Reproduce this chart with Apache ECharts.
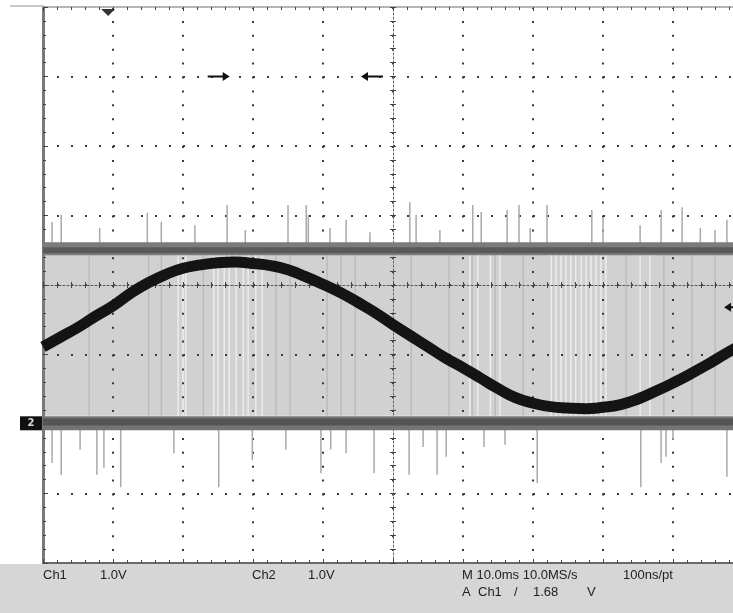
<!DOCTYPE html>
<html>
<head>
<meta charset="utf-8">
<script src="https://cdn.jsdelivr.net/npm/echarts@6/dist/echarts.min.js"></script>
<style>
html, body { margin: 0; padding: 0; background: #fff; }
#main { width: 733px; height: 613px; }
</style>
</head>
<body>
<div id="main"></div>
<script>
// Ch1: sine trace, read every quarter division (time in div, volts at 1.0V/div)
var ch1Time = [0, 0.25, 0.5, 0.75, 1, 1.25, 1.5, 1.75, 2, 2.25, 2.5, 2.75, 3, 3.25, 3.5, 3.75,
    4, 4.25, 4.5, 4.75, 5, 5.25, 5.5, 5.75, 6, 6.25, 6.5, 6.75, 7, 7.25, 7.5, 7.75,
    8, 8.25, 8.5, 8.75, 9, 9.25, 9.5, 9.75, 10];
var ch1Volts = [-0.89, -0.75, -0.61, -0.45, -0.30, -0.12, 0.03, 0.15, 0.24, 0.29, 0.32, 0.33,
    0.31, 0.28, 0.22, 0.12, 0.01, -0.11, -0.25, -0.40, -0.57, -0.73, -0.89, -1.05,
    -1.19, -1.34, -1.49, -1.62, -1.70, -1.75, -1.77, -1.78, -1.76, -1.72, -1.64, -1.53,
    -1.41, -1.28, -1.14, -0.99, -0.85];

// Ch2: noisy two-level signal, drawn as two bands with the toggling area between
var ch2High = 0.52;
var ch2Low = -1.99;
var ch2FillHigh = 0.43;
var ch2FillLow = -1.88;
var lightStripes = [1.93, 2.00, 2.04, 2.44, 2.50, 2.59, 2.66, 2.76, 2.86, 2.93, 3.04, 3.13,
    6.10, 6.21, 6.39, 6.53, 7.26, 7.33, 7.40, 7.47, 7.54, 7.61, 7.69, 7.76, 7.83, 7.90, 7.97, 8.04,
    8.53, 8.67];
var darkStripes = [0.66, 1.51, 1.69, 2.29, 3.33, 3.53, 4.06, 4.26, 4.46, 5.26, 5.80, 6.13,
    6.46, 6.86, 8.33, 8.87, 9.27, 9.60];

// glitches above the high band [time, top] and below the low band [time, bottom]
var spikesUp = [[0.13, 0.91], [0.26, 1.01], [0.81, 0.82], [1.49, 1.04], [1.69, 0.91], [2.17, 0.86],
    [2.63, 1.15], [2.89, 0.79], [3.50, 1.15], [3.76, 1.15], [3.79, 1.01], [4.10, 0.82], [4.33, 0.94],
    [4.67, 0.76], [5.24, 1.19], [5.33, 1.01], [5.67, 0.79], [6.14, 1.15], [6.26, 1.05], [6.63, 1.08],
    [6.80, 1.15], [6.96, 0.82], [7.20, 1.15], [7.84, 1.08], [8.00, 0.98], [8.53, 0.86], [8.83, 1.08],
    [9.13, 1.12], [9.39, 0.82], [9.60, 0.79], [9.77, 0.94]];
var spikesDown = [[0.13, -2.56], [0.26, -2.73], [0.53, -2.37], [0.77, -2.73], [0.87, -2.63],
    [1.11, -2.91], [1.87, -2.42], [2.51, -2.91], [2.99, -2.52], [3.47, -2.37], [3.97, -2.71],
    [4.11, -2.37], [4.33, -2.42], [4.73, -2.71], [5.23, -2.73], [5.43, -2.33], [5.63, -2.73],
    [5.76, -2.47], [6.30, -2.33], [6.60, -2.30], [7.06, -2.85], [8.54, -2.91], [8.83, -2.56],
    [8.90, -2.47], [9.00, -2.23], [9.77, -2.76]];

// on-screen markers
var triggerPos = [0.93, 3.92];
var cursorRight = [2.51, 3.0];
var cursorLeft = [4.70, 3.0];
var triggerLevel = [9.886, -0.32];

// readout texts
var readRow1 = ['Ch1', '1.0V', 'Ch2', '1.0V', 'M 10.0ms 10.0MS/s', '100ns/pt'];
var readRow2 = ['A', 'Ch1', '/', '1.68', 'V'];

var chart = echarts.init(document.getElementById('main'));

function vLines(base, color, width) {
    return function (params, api) {
        var a = api.coord([api.value(0), api.value(1)]);
        var b = api.coord([api.value(0), base]);
        return {
            type: 'line',
            shape: { x1: a[0], y1: a[1], x2: b[0], y2: b[1] },
            style: { stroke: color, lineWidth: width }
        };
    };
}

function valueAxis(dim, extra) {
    var ax = {
        type: 'value',
        min: dim === 'x' ? 0 : -4,
        max: dim === 'x' ? 10 : 4,
        interval: 1,
        axisLabel: { show: false },
        splitLine: { show: false },
        axisLine: { onZero: false, show: false },
        axisTick: { show: false },
        minorTick: { show: false }
    };
    return Object.assign(ax, extra);
}

var tickStyle = { color: '#444', width: 1 };
var dotColor = '#3a3a3a';

var option = {
    animation: false,
    backgroundColor: '#fff',
    grid: { left: 43, top: 7, width: 700, height: 556, outerBoundsMode: 'none' },
    xAxis: [
        valueAxis('x', {
            position: 'bottom',
            axisLine: { show: true, onZero: false, lineStyle: { color: '#6a6a6a', width: 2 } },
            axisTick: { show: true, inside: true, length: 4, lineStyle: tickStyle },
            minorTick: { show: true, splitNumber: 5, length: 3, lineStyle: tickStyle },
            splitLine: { show: true, lineStyle: { color: dotColor, width: 2, type: [2, 11.9] } }
        }),
        valueAxis('x', {
            position: 'top',
            axisLine: { show: true, onZero: false, lineStyle: { color: '#b4b4b4', width: 2 } },
            axisTick: { show: true, inside: true, length: 4, lineStyle: tickStyle },
            minorTick: { show: true, splitNumber: 5, length: 3, lineStyle: tickStyle }
        }),
        valueAxis('x', {
            position: 'bottom', offset: -278,
            axisLine: { show: true, onZero: false, lineStyle: { color: '#555', width: 1, type: [2, 2] } },
            axisTick: { show: true, inside: true, length: 3, lineStyle: tickStyle },
            minorTick: { show: true, splitNumber: 5, length: 3, lineStyle: tickStyle }
        }),
        valueAxis('x', {
            position: 'bottom', offset: -278,
            axisTick: { show: true, inside: false, length: 3, lineStyle: tickStyle },
            minorTick: { show: true, splitNumber: 5, length: 3, lineStyle: tickStyle }
        })
    ],
    yAxis: [
        valueAxis('y', {
            position: 'left',
            axisLine: { show: true, onZero: false, lineStyle: { color: '#7a7a7a', width: 3 } },
            axisTick: { show: true, inside: true, length: 5, lineStyle: tickStyle },
            minorTick: { show: true, splitNumber: 5, length: 3, lineStyle: tickStyle },
            splitLine: { show: true, lineStyle: { color: dotColor, width: 2, type: [2, 12] } }
        }),
        valueAxis('y', {
            position: 'left', offset: -350,
            axisLine: { show: true, onZero: false, lineStyle: { color: '#666', width: 1, type: [2, 2] } },
            axisTick: { show: true, inside: true, length: 3, lineStyle: tickStyle },
            minorTick: { show: true, splitNumber: 5, length: 3, lineStyle: tickStyle }
        }),
        valueAxis('y', {
            position: 'left', offset: -350,
            axisTick: { show: true, inside: false, length: 3, lineStyle: tickStyle },
            minorTick: { show: true, splitNumber: 5, length: 3, lineStyle: tickStyle }
        })
    ],
    series: [
        {
            name: 'ch2 fill',
            type: 'custom',
            z: -3,
            silent: true,
            data: [[0, ch2FillLow, 10, ch2FillHigh]],
            renderItem: function (params, api) {
                var a = api.coord([api.value(0), api.value(3)]);
                var b = api.coord([api.value(2), api.value(1)]);
                return {
                    type: 'rect',
                    shape: { x: a[0], y: a[1], width: b[0] - a[0], height: b[1] - a[1] },
                    style: { fill: '#d1d1d1' }
                };
            }
        },
        {
            name: 'ch2 dark stripes',
            type: 'custom',
            z: -2,
            silent: true,
            data: darkStripes.map(function (t) { return [t, ch2FillHigh]; }),
            renderItem: vLines(ch2FillLow, '#bcbcbc', 1.5)
        },
        {
            name: 'ch2 light stripes',
            type: 'custom',
            z: -2,
            silent: true,
            data: lightStripes.map(function (t) { return [t, ch2FillHigh]; }),
            renderItem: vLines(ch2FillLow, '#ececec', 1.5)
        },
        {
            name: 'ch2 spikes up',
            type: 'custom',
            z: 1,
            silent: true,
            data: spikesUp,
            renderItem: vLines(ch2High, '#a9a9a9', 1.5)
        },
        {
            name: 'ch2 spikes down',
            type: 'custom',
            z: 1,
            silent: true,
            data: spikesDown,
            renderItem: vLines(ch2Low, '#a9a9a9', 1.5)
        },
        {
            name: 'ch2 high',
            type: 'line',
            silent: true,
            symbol: 'none',
            data: [[0, ch2High], [10, ch2High]],
            lineStyle: { color: '#7c7c7c', width: 13 }
        },
        {
            name: 'ch2 high core',
            type: 'line',
            silent: true,
            symbol: 'none',
            data: [[0, ch2High - 0.02], [10, ch2High - 0.02]],
            lineStyle: { color: '#5a5a5a', width: 6 }
        },
        {
            name: 'ch2 low',
            type: 'line',
            silent: true,
            symbol: 'none',
            data: [[0, ch2Low], [10, ch2Low]],
            lineStyle: { color: '#747474', width: 14 }
        },
        {
            name: 'ch2 low core',
            type: 'line',
            silent: true,
            symbol: 'none',
            data: [[0, ch2Low + 0.02], [10, ch2Low + 0.02]],
            lineStyle: { color: '#555', width: 7 }
        },
        {
            name: 'ch1',
            type: 'line',
            z: 4,
            silent: true,
            smooth: true,
            symbol: 'none',
            data: ch1Time.map(function (t, i) { return [t, ch1Volts[i]]; }),
            lineStyle: { color: '#141414', width: 11 },
            markPoint: {
                silent: true,
                label: { show: false },
                data: [
                    { coord: triggerPos, symbol: 'path://M0,0L14,0L7,7Z', symbolSize: [14, 7],
                      itemStyle: { color: '#333' } },
                    { coord: cursorRight, symbol: 'path://M0,3.5L15,3.5L15,0L22,4.5L15,9L15,5.5L0,5.5Z',
                      symbolSize: [22, 9], itemStyle: { color: '#111' } },
                    { coord: cursorLeft, symbol: 'path://M22,3.5L7,3.5L7,0L0,4.5L7,9L7,5.5L22,5.5Z',
                      symbolSize: [22, 9], itemStyle: { color: '#111' } },
                    { coord: triggerLevel, symbol: 'path://M22,3.5L7,3.5L7,0L0,4.5L7,9L7,5.5L22,5.5Z',
                      symbolSize: [22, 9], itemStyle: { color: '#111' } }
                ]
            }
        }
    ]
};

chart.setOption(option);

// status bar and ground marker
var gnd = chart.convertToPixel({ xAxisIndex: 0, yAxisIndex: 0 }, [0, ch2Low]);
var font = '13px "Liberation Sans", Arial, sans-serif';
var row1X = [43, 100, 252, 308, 462, 623];
var row2X = [462, 478, 514, 533, 587];
var graphic = [
    { type: 'rect', shape: { x: 0, y: 564, width: 733, height: 49 }, style: { fill: '#d6d6d6' }, z: 10 },
    { type: 'line', shape: { x1: 10, y1: 6, x2: 43, y2: 6 }, style: { stroke: '#c8c8c8', lineWidth: 2 } },
    { type: 'rect', shape: { x: 20, y: gnd[1] - 7, width: 22, height: 14 }, style: { fill: '#111' }, z: 10 },
    { type: 'text', x: 31, y: gnd[1], z: 11,
      style: { text: '2', fill: '#ddd', font: 'bold 10px "DejaVu Sans", sans-serif', align: 'center', verticalAlign: 'middle' } }
];
readRow1.forEach(function (s, i) {
    graphic.push({ type: 'text', x: row1X[i], y: 575, z: 11,
        style: { text: s, fill: '#222', font: font, verticalAlign: 'middle' } });
});
readRow2.forEach(function (s, i) {
    graphic.push({ type: 'text', x: row2X[i], y: 592, z: 11,
        style: { text: s, fill: '#222', font: font, verticalAlign: 'middle' } });
});
chart.setOption({ graphic: graphic });
</script>
</body>
</html>
